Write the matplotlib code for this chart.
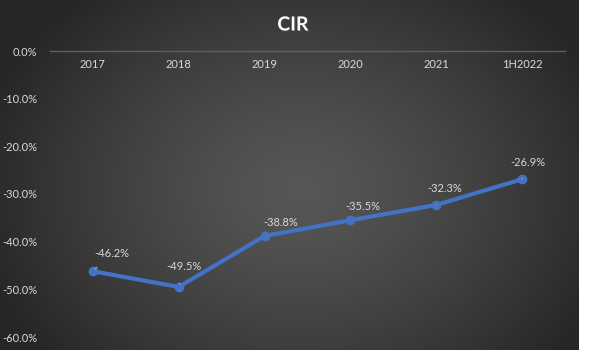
import numpy as np
import matplotlib
matplotlib.use("Agg")
import matplotlib.pyplot as plt
import matplotlib.patheffects as pe

# Dane wykresu
years = ["2017", "2018", "2019", "2020", "2021", "1H2022"]
cir = [-46.2, -49.5, -38.8, -35.5, -32.3, -26.9]
label_offsets = [(19, 18), (5, 20), (16, 13), (12, 14), (8, 16), (6, 17)]
leaders = [True, True, False, False, True, True]

plt.rcParams['font.family'] = ['Lato', 'DejaVu Sans']

W, H = 591, 350
fig = plt.figure(figsize=(W / 100, H / 100), dpi=100)
fig.patch.set_facecolor("white")

# Tło - gradient radialny
bg = fig.add_axes([0, 0, 579 / W, 1])
yy, xx = np.mgrid[0:H, 0:579]
r = np.sqrt(((xx - 300) / 330) ** 2 + ((yy - 190) / 260) ** 2)
r = np.clip(r, 0, 1)
shade = 0.34 - 0.19 * r ** 1.3
bg.imshow(np.dstack([shade] * 3), aspect="auto", interpolation="bilinear")
bg.set_axis_off()

ax = fig.add_axes([50 / W, (H - 337) / H, 515 / W, 286 / H])
ax.set_facecolor("none")
x = np.arange(len(years))
ax.plot(x, cir, color="#4472C4", lw=3, marker="o", ms=6, zorder=3,
        solid_capstyle="round")

for i, v in enumerate(cir):
    dx, dy = label_offsets[i]
    props = None
    if leaders[i]:
        props = dict(arrowstyle="-", color="#a6a6a6", lw=0.8,
                     shrinkA=6, shrinkB=2)
    ax.annotate(f"{v:.1f}%", (x[i], v), xytext=(dx, dy),
                textcoords="offset pixels", ha="center", va="center",
                color="#d9d9d9", fontsize=8, arrowprops=props)

ax.set_xlim(-0.5, len(years) - 0.5)
ax.set_ylim(-60, 0)
ax.set_yticks(np.arange(-60, 1, 10))
ax.set_yticklabels([f"{t:.1f}%" for t in np.arange(-60, 1, 10)])
ax.set_xticks(x)
ax.set_xticklabels(years)

for s in ["top", "right", "left"]:
    ax.spines[s].set_visible(False)
ax.spines["bottom"].set_position(("data", 0))
ax.spines["bottom"].set_color("#5f5f5f")
ax.spines["bottom"].set_linewidth(1)
ax.tick_params(axis="both", length=0, colors="#d9d9d9", labelsize=8)
ax.tick_params(axis="y", pad=9)
ax.tick_params(axis="x", pad=6)

fig.text(293 / W, 1 - 25 / H, "CIR", ha="center", va="center", color="white",
         fontsize=14, fontweight="bold",
         path_effects=[pe.withSimplePatchShadow(offset=(1, -1), alpha=0.6)])

fig.savefig("out.png", dpi=100)
